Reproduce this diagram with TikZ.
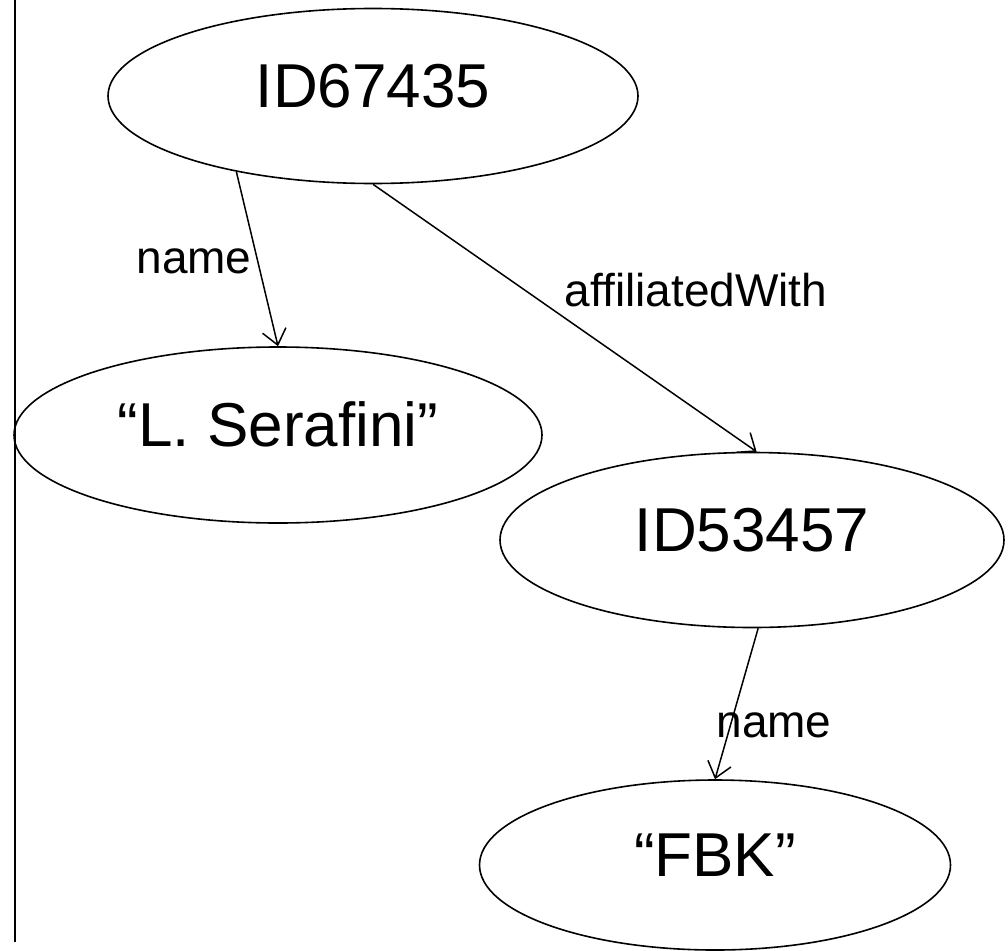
\documentclass[tikz,border=0pt]{standalone}
\usepackage{fontspec}
\setmainfont{Liberation Sans}
\usetikzlibrary{shapes.geometric,arrows.meta}
\begin{document}
\begin{tikzpicture}[x=1pt,y=-1pt,
  ent/.style={draw, ellipse, line width=1.6pt, inner sep=0pt,
    font=\fontsize{62}{62}\selectfont, text height=44pt, text depth=22pt},
  rel/.style={line width=1.5pt, -{Straight Barb[length=15pt,width=24pt,line width=1.5pt]}},
  lab/.style={font=\fontsize{46}{46}\selectfont, anchor=base, inner sep=0pt}]
\useasboundingbox (0,0) rectangle (1008,950);
\draw[line width=2pt] (15,0) -- (15,942);
\node[ent, minimum width=530pt, minimum height=175pt] (e1) at (373,96) {ID67435};
\node[ent, minimum width=528pt, minimum height=176pt] (e2) at (278,435) {“L. Serafini”};
\node[ent, minimum width=504pt, minimum height=175pt] (e3) at (752,540) {ID53457};
\node[ent, minimum width=471pt, minimum height=170pt] (e4) at (715,865) {“FBK”};
\draw[rel] (e1.209) -- (e2.north);
\draw[rel] (e1.south) -- (e3.87);
\draw[rel] (e3.274) -- (e4.north);
\node[lab] (l1) at (194,273) {name};
\node[lab] (l2) at (696,306) {affiliatedWith};
\node[lab] (l3) at (774,737) {name};
\end{tikzpicture}
\end{document}
